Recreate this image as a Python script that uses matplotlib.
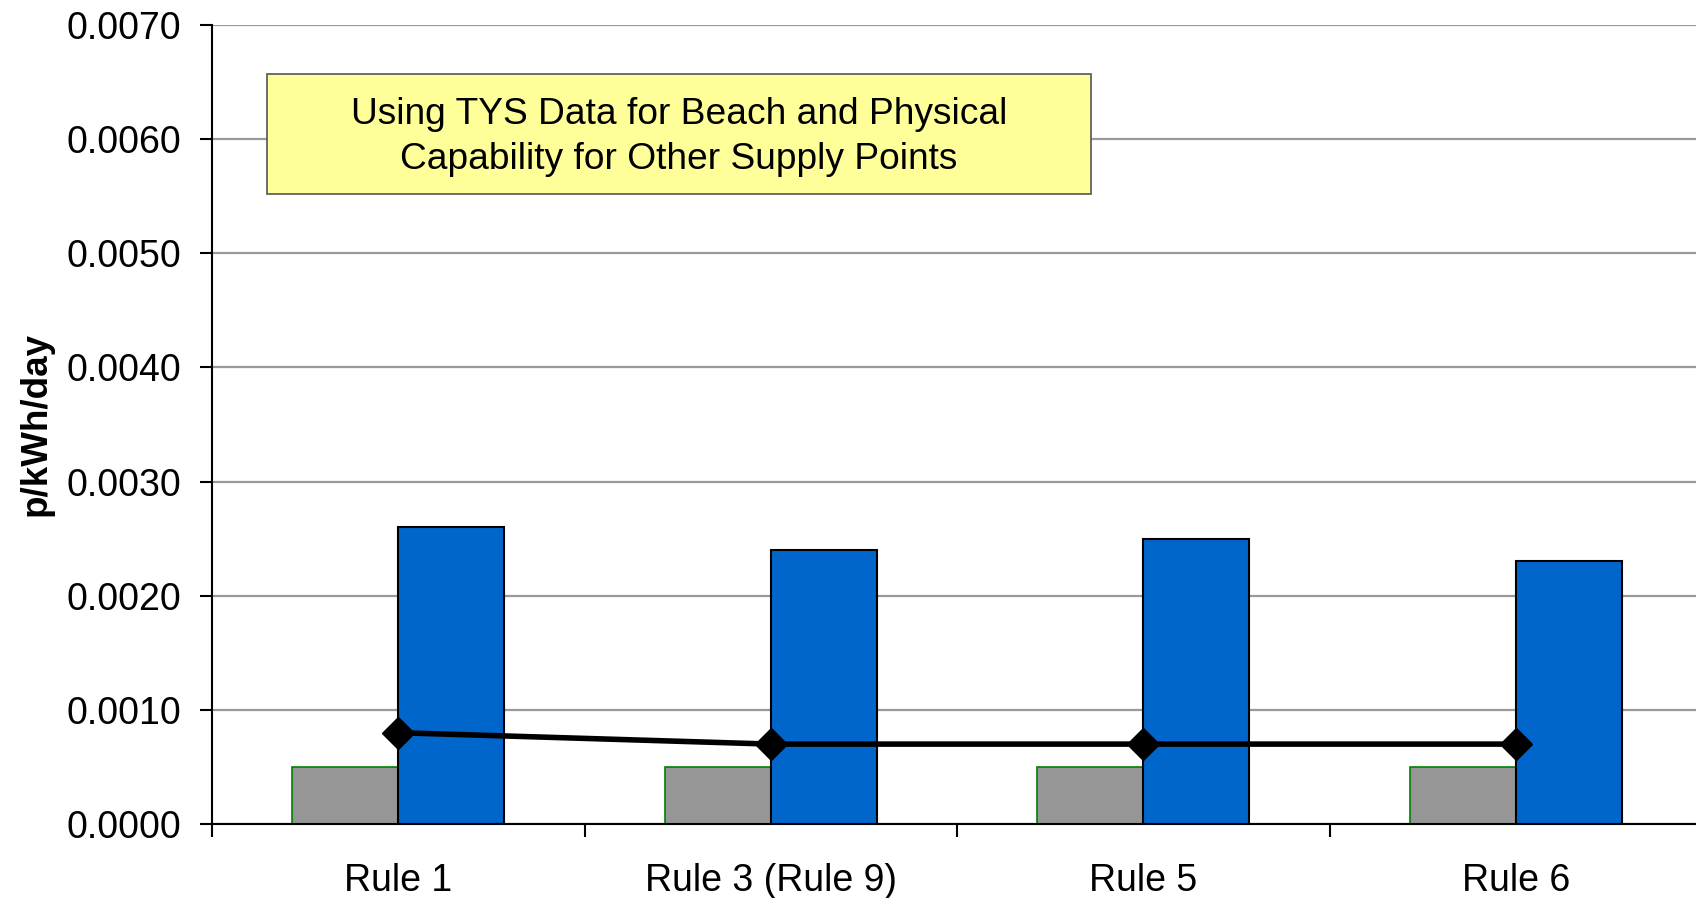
import matplotlib
matplotlib.use("Agg")
import matplotlib.pyplot as plt
import numpy as np
from matplotlib.patches import Rectangle

categories = ["Rule 1", "Rule 3 (Rule 9)", "Rule 5", "Rule 6"]
grey_values = [0.0005, 0.0005, 0.0005, 0.0005]
blue_values = [0.0026, 0.0024, 0.0025, 0.0023]
line_values = [0.0008, 0.0007, 0.0007, 0.0007]
yticks = [0.0, 0.001, 0.002, 0.003, 0.004, 0.005, 0.006, 0.007]
box_text = "Using TYS Data for Beach and Physical\nCapability for Other Supply Points"

plt.rcParams['font.family'] = ['Liberation Sans', 'DejaVu Sans']

fig = plt.figure(figsize=(16.96, 8.98), dpi=100)
ax = fig.add_axes([212/1696, 1-824/898, 1490/1696, (824-25)/898])

x = np.arange(len(categories))
w = 0.285
ax.bar(x - w/2, grey_values, width=w, color='#969696', edgecolor='#008000', linewidth=1.2, zorder=2)
ax.bar(x + w/2, blue_values, width=w, color='#0066CC', edgecolor='black', linewidth=1.5, zorder=2)
ax.plot(x, line_values, color='black', lw=4, marker='D', markersize=16, zorder=4)

ax.set_xlim(-0.5, 3.5)
ax.set_ylim(0, 0.007)
ax.set_yticks(yticks)
ax.set_yticklabels([f"{v:.4f}" for v in yticks])
ax.yaxis.grid(True, color='#999999', linewidth=1.6, zorder=0)
ax.set_axisbelow(True)

ax.set_xticks([-0.5, 0.5, 1.5, 2.5])
ax.set_xticklabels([])
ax.set_xticks(x, minor=True)
ax.set_xticklabels(categories, minor=True)
ax.tick_params(axis='x', which='major', length=9, width=1.5, direction='out')
ax.tick_params(axis='x', which='minor', length=0, pad=28, labelsize=27)
ax.tick_params(axis='y', length=9, width=1.5, pad=13, labelsize=27)

for s in ['top', 'right']:
    ax.spines[s].set_visible(False)
for s in ['left', 'bottom']:
    ax.spines[s].set_linewidth(1.5)
    ax.spines[s].set_color('black')

fig.text(36/1696, 1-424/898, "p/kWh/day", rotation=90, fontsize=26.5, fontweight='bold',
         ha='center', va='center')

fig.patches.append(Rectangle((267/1696, 1-194/898), (1091-267)/1696, (194-74)/898,
                             transform=fig.transFigure, facecolor='#FFFF99', edgecolor='#555555',
                             linewidth=1.2, zorder=5))
t = fig.text((267+1091)/2/1696, 1-137/898, box_text, ha='center', va='center', fontsize=26.7,
             linespacing=1.38)
t.set_zorder(6)

fig.savefig("out.png", dpi=100)
